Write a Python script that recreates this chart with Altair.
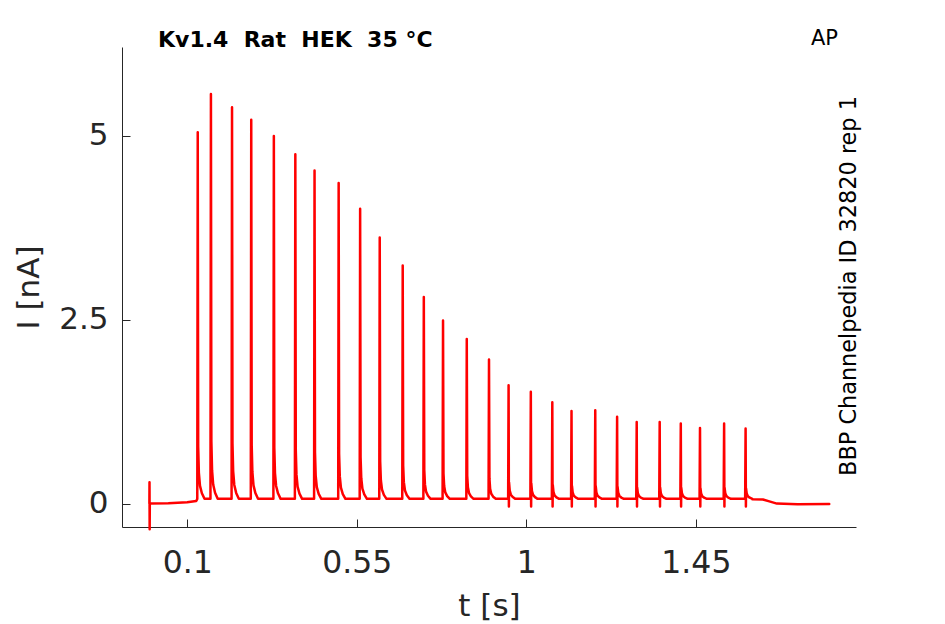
import altair as alt
import pandas as pd

# ---- data ----
spike_t = [0.128, 0.163, 0.219, 0.270, 0.330, 0.387, 0.438, 0.502, 0.559,
           0.611, 0.672, 0.728, 0.779, 0.842, 0.901, 0.953, 1.012, 1.069,
           1.120, 1.183, 1.241, 1.293, 1.354, 1.410, 1.461, 1.525, 1.582]
spike_peak = [5.05, 5.57, 5.39, 5.22, 5.00, 4.75, 4.53, 4.36, 4.01,
              3.62, 3.24, 2.81, 2.49, 2.24, 1.96, 1.61, 1.52, 1.38,
              1.26, 1.27, 1.18, 1.11, 1.11, 1.09, 1.03, 1.09, 1.02]
spike_dip = [0, 0, 0, 0, 0, 0, 0, 0, 0, 0, 0, 0, 0, 0, 0,
             -0.04, -0.04, -0.04, -0.04, -0.04, -0.04, -0.04, -0.04,
             -0.04, -0.04, -0.04, -0.04]
# spike shape: time after peak (s) and fraction of peak
tail_dt = [0.0012, 0.003, 0.006, 0.011, 0.018]
tail_frac = [0.14, 0.07, 0.035, 0.015, 0.0]
baseline = 0.065
pre_t = [-0.0003, 0.0, 0.0004, 0.0008, 0.05, 0.10, 0.124]
pre_i = [0.0, 0.29, -0.35, 0.0, 0.005, 0.02, 0.035]
post_t = [1.600, 1.628, 1.645, 1.665, 1.72, 1.804]
post_i = [0.06, 0.055, 0.03, 0.0, -0.01, -0.005]

x_ticks = [0.1, 0.55, 1, 1.45]
y_ticks = [0, 2.5, 5]
x_domain = [-0.073, 1.875]
y_domain = [-0.318, 6.21]

# non-breaking spaces keep the double gaps of the original title
title_txt = ["Kv1.4\u00a0\u00a0Rat\u00a0\u00a0HEK\u00a0\u00a035\u00a0°C"]
ap_txt = ["AP"]
id_txt = ["BBP Channelpedia ID 32820 rep 1"]

# ---- build trace ----
t_all, i_all = list(pre_t), list(pre_i)
for t, p, d in zip(spike_t, spike_peak, spike_dip):
    t_all.append(t - 0.0012); i_all.append(baseline)
    t_all.append(t); i_all.append(p)
    if d:
        t_all.append(t + 0.0008); i_all.append(d)
    for dt, f in zip(tail_dt, tail_frac):
        t_all.append(t + dt); i_all.append(baseline + f * p)
t_all += post_t
i_all += post_i
df = pd.DataFrame({"t": t_all, "I": i_all, "order": list(range(len(t_all)))})

FONT = "DejaVu Sans"
DARK = "#262626"

line = alt.Chart(df).mark_line(color="#ff0000", strokeWidth=2.5, clip=False,
                               strokeJoin="round", strokeCap="round").encode(
    x=alt.X("t:Q",
            scale=alt.Scale(domain=x_domain, nice=False, zero=False),
            axis=alt.Axis(values=x_ticks, labelExpr="'' + datum.value", title="t [s]",
                          grid=False,
                          tickSize={"expr": "-8"}, labelPadding=53,
                          labelBaseline="alphabetic", labelFontSize=31.5,
                          labelFont=FONT, labelColor=DARK, labelFlush=False,
                          titleFont=FONT, titleFontSize=31, titleFontWeight="normal",
                          titleColor=DARK, titleY=88, titleBaseline="alphabetic",
                          domainColor=DARK, tickColor=DARK)),
    y=alt.Y("I:Q",
            scale=alt.Scale(domain=y_domain, nice=False, zero=False),
            axis=alt.Axis(values=y_ticks, labelExpr="'' + datum.value", title="I [nA]",
                          grid=False,
                          tickSize={"expr": "-8"}, labelPadding=22,
                          labelFontSize=31, labelFont=FONT, labelColor=DARK,
                          labelFlush=False,
                          titleFont=FONT, titleFontSize=31, titleFontWeight="normal",
                          titleColor=DARK, titleX=-84, titleY=240, titleAngle=270,
                          titleAlign="center", titleBaseline="alphabetic",
                          domainColor=DARK, tickColor=DARK)),
    order="order:Q",
)

title_layer = alt.Chart(pd.DataFrame({"label": title_txt})).mark_text(
    font=FONT, fontSize=22, fontWeight="bold", align="left", baseline="alphabetic",
    color="#000000").encode(x=alt.value(36), y=alt.value(0), text="label:N")

ap_layer = alt.Chart(pd.DataFrame({"label": ap_txt})).mark_text(
    font=FONT, fontSize=21, align="left", baseline="alphabetic",
    color="#000000").encode(x=alt.value(689), y=alt.value(-2), text="label:N")

id_layer = alt.Chart(pd.DataFrame({"label": id_txt})).mark_text(
    font=FONT, fontSize=22.4, align="center", baseline="middle", angle=270,
    color="#000000").encode(x=alt.value(727), y=alt.value(239), text="label:N")

chart = alt.layer(line, title_layer, ap_layer, id_layer).properties(
    width=734, height=480,
    autosize=alt.AutoSizeParams(type="none"),
    padding={"left": 114, "top": 39, "right": 80, "bottom": 95},
    background="white",
).configure_view(stroke=None)

chart.save("out.html", embed_options={"renderer": "svg", "actions": False})
